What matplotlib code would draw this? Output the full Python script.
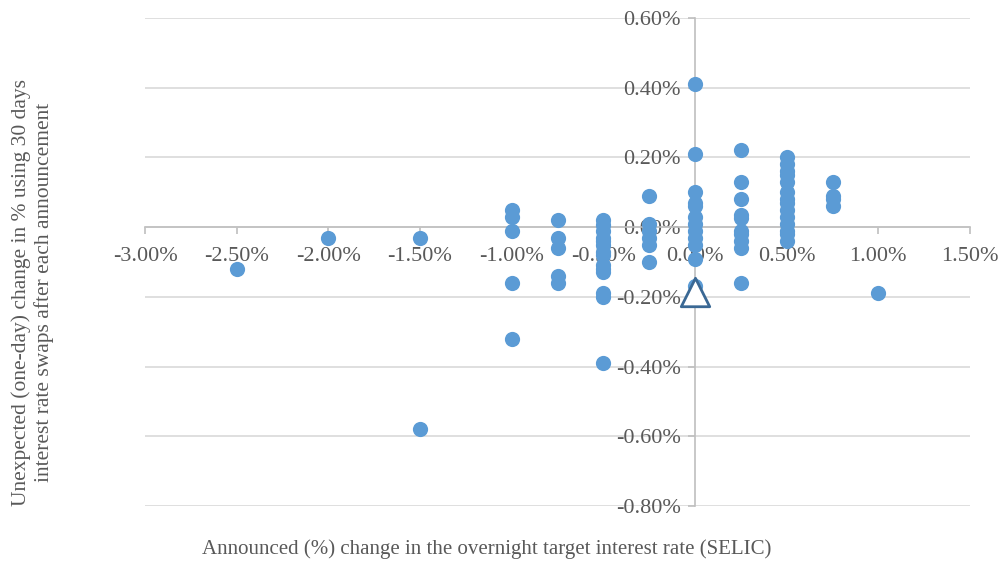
import numpy as np
import matplotlib
matplotlib.use('Agg')
from matplotlib import pyplot as plt
from matplotlib.ticker import FuncFormatter, MultipleLocator
plt.rcParams['font.family'] = ['Liberation Serif', 'DejaVu Serif']
plt.rcParams['axes.unicode_minus'] = False

# announced change in SELIC (%) and unexpected change in 30-day swap (%)
x_vals = [-2.5, -2.0, -1.5, -1.5,
          -1.0, -1.0, -1.0, -1.0, -1.0,
          -0.75, -0.75, -0.75, -0.75, -0.75,
          -0.5, -0.5, -0.5, -0.5, -0.5, -0.5, -0.5, -0.5, -0.5, -0.5, -0.5, -0.5, -0.5, -0.5,
          -0.25, -0.25, -0.25, -0.25, -0.25, -0.25,
          0.0, 0.0, 0.0, 0.0, 0.0, 0.0, 0.0, 0.0, 0.0, 0.0, 0.0, 0.0,
          0.25, 0.25, 0.25, 0.25, 0.25, 0.25, 0.25, 0.25, 0.25, 0.25,
          0.5, 0.5, 0.5, 0.5, 0.5, 0.5, 0.5, 0.5, 0.5, 0.5, 0.5, 0.5, 0.5, 0.5,
          0.75, 0.75, 0.75, 0.75,
          1.0]
y_vals = [-0.12, -0.03, -0.03, -0.58,
          0.05, 0.03, -0.01, -0.16, -0.32,
          0.02, -0.03, -0.06, -0.14, -0.16,
          0.02, 0.005, -0.01, -0.03, -0.04, -0.05, -0.07, -0.08, -0.11, -0.12, -0.13, -0.19, -0.20, -0.39,
          0.09, 0.01, -0.01, -0.03, -0.05, -0.10,
          0.41, 0.21, 0.10, 0.07, 0.06, 0.03, 0.01, -0.01, -0.03, -0.05, -0.09, -0.17,
          0.22, 0.13, 0.08, 0.035, 0.025, -0.01, -0.02, -0.04, -0.06, -0.16,
          0.20, 0.18, 0.16, 0.15, 0.13, 0.10, 0.08, 0.07, 0.05, 0.03, 0.01, -0.01, -0.02, -0.04,
          0.13, 0.09, 0.08, 0.06,
          -0.19]
mean_x = [0.0]
mean_y = [-0.185]

fig = plt.figure(figsize=(10.02, 5.63), dpi=100)
ax = fig.add_axes([145 / 1002, 1 - 506 / 563, 825 / 1002, 488 / 563])

ax.scatter(x_vals, y_vals, s=120, color='#5b9bd5', linewidths=0, zorder=3)
ax.scatter(mean_x, mean_y, s=420, marker='^', facecolor='white',
           edgecolor='#3a6894', linewidths=2, zorder=4)

ax.set_xlim(-3.0, 1.5)
ax.set_ylim(-0.8, 0.6)
ax.xaxis.set_major_locator(MultipleLocator(0.5))
ax.yaxis.set_major_locator(MultipleLocator(0.2))
fmt = FuncFormatter(lambda v, p: '%.2f%%' % (0.0 if abs(v) < 1e-9 else v))
ax.xaxis.set_major_formatter(fmt)
ax.yaxis.set_major_formatter(fmt)

ax.grid(axis='y', color='#d9d9d9', linewidth=1.2, zorder=0)
ax.set_axisbelow(True)
for s in ['top', 'right']:
    ax.spines[s].set_visible(False)
for s in ['left', 'bottom']:
    ax.spines[s].set_position(('data', 0))
    ax.spines[s].set_color('#bfbfbf')
    ax.spines[s].set_linewidth(1.2)

ax.tick_params(axis='y', length=5, width=1.2, color='#bfbfbf', labelsize=16, labelcolor='#595959', pad=5)
ax.tick_params(axis='x', length=5, width=1.2, color='#bfbfbf', labelsize=16, labelcolor='#595959', pad=9)

fig.text(487 / 1002, 1 - 549 / 563, 'Announced (%) change in the overnight target interest rate (SELIC)',
         ha='center', va='center', fontsize=15, color='#595959')
fig.text(33 / 1002, 1 - 292 / 563,
         'Unexpected (one-day) change in % using 30 days\ninterest rate swaps after each announcement',
         ha='center', va='center', rotation=90, fontsize=15.5, color='#595959', linespacing=1.2)

fig.savefig('out.png', dpi=100)
